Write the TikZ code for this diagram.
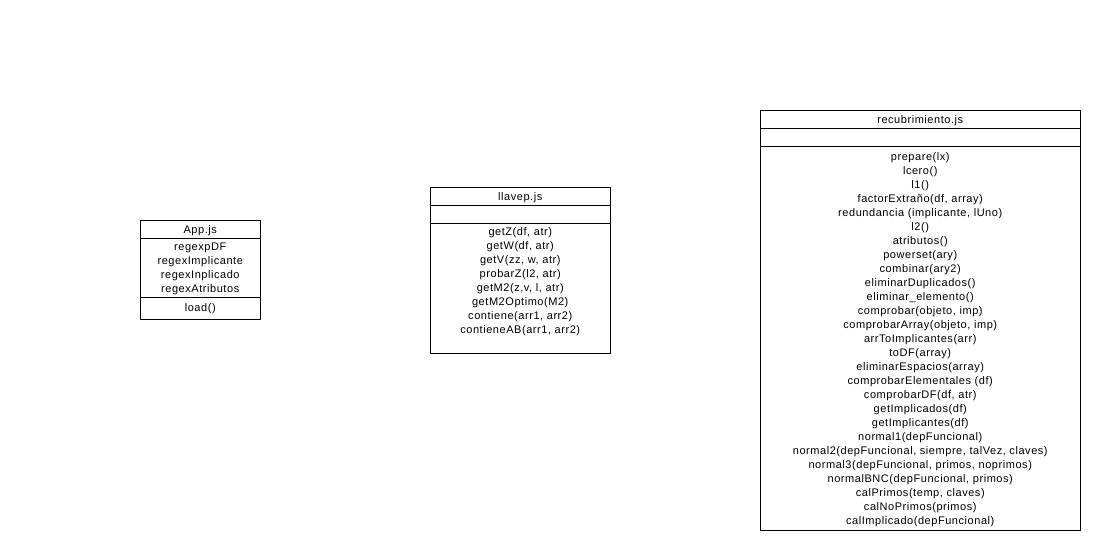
\documentclass[tikz,border=0pt]{standalone}
\usepackage{fontspec}
\setmainfont{Liberation Sans}[LetterSpace=5]
\begin{document}
\begin{tikzpicture}[x=1pt,y=-1pt,
  box/.style={draw=black,line width=1pt},
  lbl/.style={anchor=base,inner sep=0pt,font=\fontsize{11}{14}\selectfont,text=black}]
\useasboundingbox[fill=white] (0,0) rectangle (1102,550);
% App.js
\draw[box] (140,220) rectangle (260.5,319.5);
\draw[box] (140,238) -- (260.5,238);
\draw[box] (140,297.5) -- (260.5,297.5);
\node[lbl] (atitle) at (200.25,233) {App.js};
\foreach \t [count=\i from 0] in {regexpDF,regexImplicante,regexInplicado,regexAtributos}
  \node[lbl] (a\i) at (200.25,250+14*\i) {\t};
\node[lbl] (aload) at (200.25,311) {load()};
% llavep.js
\draw[box] (430,187) rectangle (610.5,353);
\draw[box] (430,205) -- (610.5,205);
\draw[box] (430,223) -- (610.5,223);
\node[lbl] (ltitle) at (520.25,200) {llavep.js};
\foreach \t [count=\i from 0] in {{getZ(df, atr)},{getW(df, atr)},{getV(zz, w, atr)},{probarZ(l2, atr)},{getM2(z,v, l, atr)},{getM2Optimo(M2)},{contiene(arr1, arr2)},{contieneAB(arr1, arr2)}}
  \node[lbl] (l\i) at (520.25,235+14*\i) {\t};
% recubrimiento.js
\draw[box] (760,110) rectangle (1080.5,530);
\draw[box] (760,128) -- (1080.5,128);
\draw[box] (760,146) -- (1080.5,146);
\node[lbl] (rtitle) at (920.25,123) {recubrimiento.js};
\foreach \t [count=\i from 0] in {{prepare(lx)},{lcero()},{l1()},{factorExtraño(df, array)},{redundancia (implicante, lUno)},{l2()},{atributos()},{powerset(ary)},{combinar(ary2)},{eliminarDuplicados()},{eliminar\_elemento()},{comprobar(objeto, imp)},{comprobarArray(objeto, imp)},{arrToImplicantes(arr)},{toDF(array)},{eliminarEspacios(array)},{comprobarElementales (df)},{comprobarDF(df, atr)},{getImplicados(df)},{getImplicantes(df)},{normal1(depFuncional)},{normal2(depFuncional, siempre, talVez, claves)},{normal3(depFuncional, primos, noprimos)},{normalBNC(depFuncional, primos)},{calPrimos(temp, claves)},{calNoPrimos(primos)},{calImplicado(depFuncional)}}
  \node[lbl] (r\i) at (920.25,160+14*\i) {\t};
\end{tikzpicture}
\end{document}
